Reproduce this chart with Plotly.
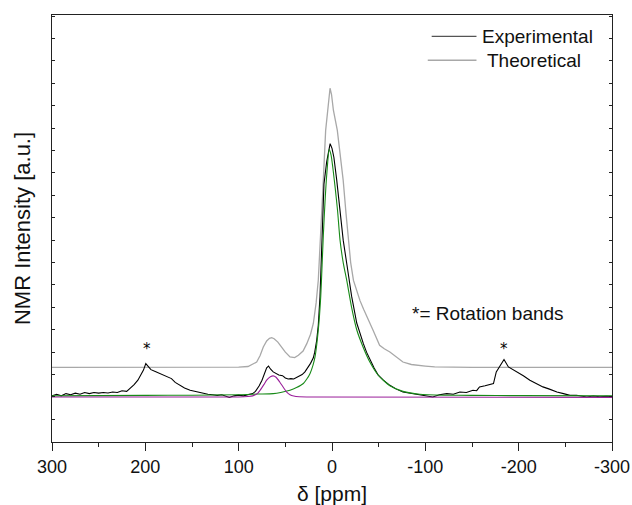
import plotly.graph_objects as go

# ---- data ----
exp_ppm = [300, 295, 290, 285, 280, 275, 270, 265, 260, 255, 250, 245, 240, 235, 230, 225, 220, 215, 212, 208, 205, 202, 199.5, 197, 194, 190, 185, 180, 175, 172, 168, 163, 158, 152, 147, 142, 138, 133, 128, 123, 118, 113, 110, 105, 100, 95, 90, 85, 82, 78, 75, 72, 70, 68, 66, 63, 60, 57, 53, 50, 47, 44, 41, 38, 35, 32, 29, 26, 23, 20, 18.5, 16.4, 14.7, 12.9, 11.1, 10, 8.6, 5.7, 3.5, 2, 0, -2, -5, -9, -12, -16, -21, -26.5, -30, -33.6, -37, -40.7, -45, -49.6, -55, -62, -69, -76, -85, -94, -100, -108, -115, -123, -130, -137, -144, -151, -155, -158, -164, -169, -173, -176, -180, -184.3, -189, -193, -198, -205, -212, -219, -226, -233, -241, -248, -255, -262, -268, -273, -280, -287, -294, -300]
exp_int = [0.05, 0.12, 0.05, 0.15, 0.1, 0.17, 0.12, 0.2, 0.15, 0.2, 0.17, 0.2, 0.18, 0.22, 0.2, 0.28, 0.25, 0.42, 0.55, 0.75, 0.95, 1.2, 1.49, 1.35, 1.22, 1.15, 1.05, 0.97, 0.85, 0.82, 0.65, 0.52, 0.4, 0.3, 0.25, 0.2, 0.15, 0.12, 0.1, 0.07, 0.1, 0.02, -0.02, 0.05, 0.08, 0.05, 0.1, 0.15, 0.25, 0.5, 0.75, 1.1, 1.3, 1.38, 1.25, 1.12, 1.05, 0.98, 0.95, 0.85, 0.8, 0.82, 0.8, 0.88, 0.95, 1.0, 1.12, 1.3, 1.5, 1.75, 2.0, 2.53, 3.2, 4.46, 7.0, 8.0, 9.5, 10.5, 11.1, 11.31, 11.1, 10.7, 9.7, 8.2, 7.0, 5.9, 4.5, 3.3, 2.8, 2.38, 2.0, 1.64, 1.3, 0.97, 0.75, 0.52, 0.35, 0.22, 0.15, 0.1, 0.06, 0.0, 0.1, 0.15, 0.12, 0.22, 0.2, 0.3, 0.28, 0.45, 0.5, 0.57, 0.6, 1.12, 1.4, 1.67, 1.34, 1.25, 1.12, 0.95, 0.75, 0.6, 0.45, 0.35, 0.22, 0.15, 0.07, 0.08, 0.02, 0.0, 0.04, 0.01, 0.03, 0.02]

theo_ppm = [300, 200, 150, 100, 90, 85, 80.7, 77, 73.6, 70, 67, 64.6, 62, 58, 55.7, 50, 45, 40, 36, 31, 27, 23, 20, 17, 14.7, 12, 9.3, 6.8, 5, 3.5, 2.1, 0.5, -1.5, -5.7, -9, -12, -15, -20, -23, -26, -30, -34, -38, -44, -51, -56, -62, -70, -76, -85, -91, -100, -110, -150, -300]
theo_int = [1.32, 1.32, 1.32, 1.33, 1.36, 1.45, 1.56, 1.85, 2.23, 2.5, 2.62, 2.65, 2.6, 2.45, 2.31, 2.0, 1.79, 1.76, 1.86, 2.05, 2.38, 2.8, 3.28, 4.2, 5.21, 7.2, 9.67, 11.9, 12.65, 13.4, 13.78, 13.5, 12.8, 11.9, 10.8, 9.67, 8.2, 6.0, 5.2, 4.8, 4.3, 3.9, 3.5, 2.98, 2.31, 2.15, 2.01, 1.75, 1.56, 1.45, 1.41, 1.38, 1.34, 1.32, 1.32]

fit1_ppm = [300, 200, 150, 100, 80, 63, 55, 45, 38, 30.7, 27, 23.6, 20.5, 18.2, 14.7, 12.1, 10.5, 9.3, 7.5, 5.5, 3, 1, -1, -3.5, -6, -8.6, -12, -15.8, -21, -26.5, -33.6, -40.7, -49.6, -62, -76, -94, -120, -150, -200, -300]
fit1_int = [0.05, 0.07, 0.08, 0.1, 0.13, 0.15, 0.2, 0.3, 0.42, 0.6, 0.8, 1.04, 1.4, 1.79, 2.98, 4.46, 6.0, 7.2, 8.7, 10.0, 11.04, 10.8, 10.2, 9.3, 8.3, 7.0, 6.0, 5.2, 4.0, 3.0, 2.2, 1.55, 0.97, 0.5, 0.25, 0.12, 0.08, 0.07, 0.06, 0.05]

fit2_ppm = [300, 100, 90, 85, 80, 77, 73, 70, 66, 63, 60, 56, 52, 48.5, 45, 41, 35, 20, -300]
fit2_int = [0.0, 0.0, 0.02, 0.05, 0.15, 0.3, 0.55, 0.75, 0.9, 0.94, 0.88, 0.67, 0.42, 0.22, 0.1, 0.04, 0.01, 0.0, -0.02]

x_tickvals = [300, 200, 100, 0, -100, -200, -300]
x_ticktext = ["300", "200", "100", "0", "-100", "-200", "-300"]
band_ppm = [198.5, -184.6]
band_int = [2.13, 2.13]

FONT = "Liberation Sans, Arial, sans-serif"

fig = go.Figure()
fig.add_trace(go.Scatter(x=theo_ppm, y=theo_int, mode="lines", line=dict(color="#a8a8a8", width=1.3), showlegend=False))
fig.add_trace(go.Scatter(x=exp_ppm, y=exp_int, mode="lines", line=dict(color="#000000", width=1.1), showlegend=False))
fig.add_trace(go.Scatter(x=fit1_ppm, y=fit1_int, mode="lines", line=dict(color="#178a17", width=1.1, shape="spline", smoothing=0.6), showlegend=False))
fig.add_trace(go.Scatter(x=fit2_ppm, y=fit2_int, mode="lines", line=dict(color="#9a1f9a", width=1.1, shape="spline", smoothing=0.6), showlegend=False))

for bx, by in zip(band_ppm, band_int):
    fig.add_annotation(x=bx, y=by, text="*", showarrow=False, font=dict(size=15, color="black", family="DejaVu Sans, sans-serif"))

# legend (manual)
fig.add_shape(type="line", xref="paper", yref="paper", x0=0.678, x1=0.758, y0=0.950, y1=0.950, line=dict(color="#555555", width=1.3))
fig.add_shape(type="line", xref="paper", yref="paper", x0=0.671, x1=0.758, y0=0.894, y1=0.894, line=dict(color="#a8a8a8", width=1.3))
fig.add_annotation(xref="paper", yref="paper", x=0.765, y=0.950, text="Experimental", showarrow=False, xanchor="left", yanchor="middle", font=dict(size=19, color="#111", family=FONT))
fig.add_annotation(xref="paper", yref="paper", x=0.774, y=0.894, text="Theoretical", showarrow=False, xanchor="left", yanchor="middle", font=dict(size=19, color="#111", family=FONT))
fig.add_annotation(xref="paper", yref="paper", x=0.778, y=0.301, text="*= Rotation bands", showarrow=False, xanchor="center", yanchor="middle", font=dict(size=19, color="#111", family=FONT))

fig.update_layout(
    width=632, height=505,
    margin=dict(l=52, r=20, t=15, b=63),
    paper_bgcolor="white", plot_bgcolor="white",
    font=dict(family=FONT, color="#111"),
)
fig.update_xaxes(
    range=[300, -300], tickvals=x_tickvals, ticktext=x_ticktext,
    ticks="outside", ticklen=8, tickwidth=1.2, tickcolor="#222",
    minor=dict(dtick=50, ticks="outside", ticklen=4, tickwidth=1.2, tickcolor="#222"),
    showline=True, linecolor="#222", linewidth=1.3, mirror=True,
    showgrid=False, zeroline=False, automargin=False,
    tickfont=dict(size=18, family=FONT, color="#111"),
    title=dict(text="δ [ppm]", font=dict(size=21, family=FONT, color="#111"), standoff=10),
)
fig.update_yaxes(
    range=[-2.01, 17.05], dtick=1, tick0=0,
    ticks="inside", ticklen=3, tickwidth=1, tickcolor="#222",
    showticklabels=False,
    showline=True, linecolor="#222", linewidth=1.3, mirror="ticks",
    showgrid=False, zeroline=False, automargin=False,
    title=dict(text="NMR Intensity [a.u.]", font=dict(size=22, family=FONT, color="#111"), standoff=14),
)

# remove the browser's default 8px body margin so the 632x505 figure fills the window exactly
fig.write_html(
    "out.html",
    config={"displayModeBar": False},
    post_script="document.body.style.margin='0';document.documentElement.style.overflow='hidden';document.body.style.overflow='hidden';",
)
